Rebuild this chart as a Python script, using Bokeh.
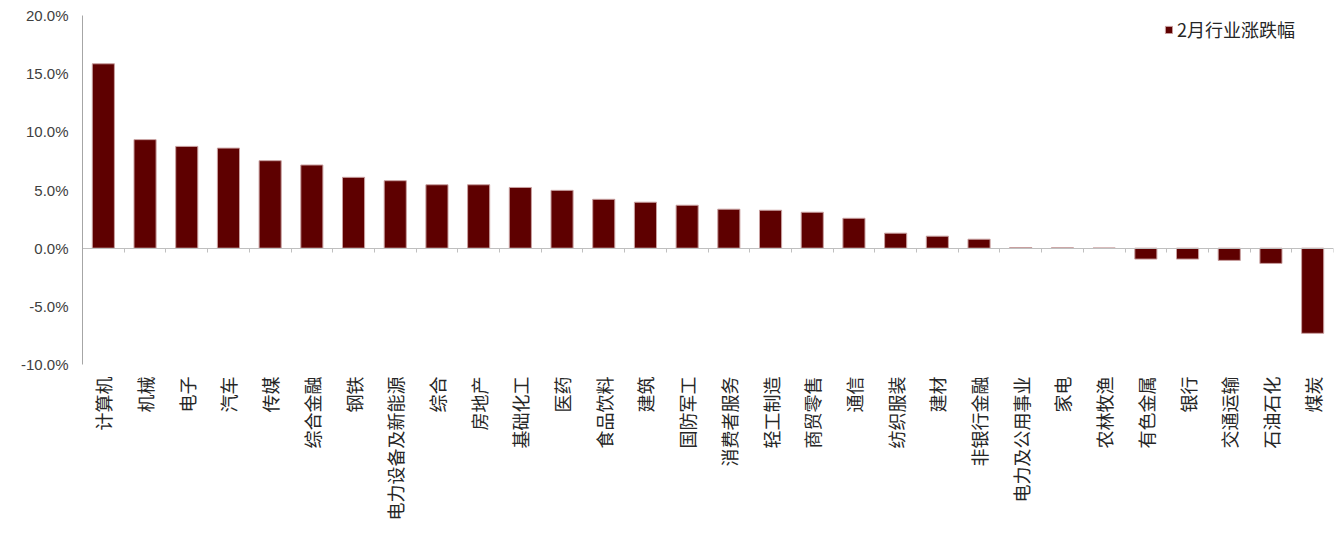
import math
from bokeh.plotting import figure
from bokeh.models import (Range1d, FixedTicker, NumeralTickFormatter, LinearAxis,
                          ColumnDataSource, Legend, LegendItem)
from bokeh.embed import file_html
from bokeh.resources import INLINE

industries = ["计算机", "机械", "电子", "汽车", "传媒", "综合金融", "钢铁", "电力设备及新能源",
              "综合", "房地产", "基础化工", "医药", "食品饮料", "建筑", "国防军工", "消费者服务",
              "轻工制造", "商贸零售", "通信", "纺织服装", "建材", "非银行金融", "电力及公用事业",
              "家电", "农林牧渔", "有色金属", "银行", "交通运输", "石油石化", "煤炭"]
change_pct = [15.85, 9.33, 8.75, 8.60, 7.52, 7.15, 6.09, 5.80, 5.45, 5.45, 5.22, 4.97, 4.20,
              3.95, 3.69, 3.35, 3.26, 3.09, 2.57, 1.29, 1.03, 0.77, 0.05, 0.03, 0.02,
              -0.94, -0.94, -1.05, -1.31, -7.32]
series_name = "2月行业涨跌幅"
y_ticks = [-0.10, -0.05, 0.0, 0.05, 0.10, 0.15, 0.20]

n = len(industries)
xs = [i + 0.5 for i in range(n)]
src = ColumnDataSource(dict(x=xs, top=[v / 100 for v in change_pct], name=industries))

p = figure(width=1336, height=535, output_backend="svg", toolbar_location=None,
           x_range=Range1d(0, n), y_range=Range1d(-0.10, 0.20),
           min_border_left=82, min_border_right=3, min_border_top=15, min_border_bottom=171,
           x_axis_location=None)
p.outline_line_color = None
p.xgrid.visible = False
p.ygrid.visible = False
p.background_fill_color = "white"

r = p.vbar(x="x", top="top", bottom=0, width=0.53, source=src,
           fill_color="#5E0000", line_color="#C9A0A0", line_width=1)

# y axis
ya = p.yaxis[0]
ya.ticker = FixedTicker(ticks=y_ticks)
ya.formatter = NumeralTickFormatter(format="0.0%")
ya.axis_line_color = "#A6A6A6"
ya.major_tick_out = 0
ya.major_tick_in = 0
ya.minor_tick_out = 0
ya.minor_tick_in = 0
ya.major_label_text_font = "Liberation Sans"
ya.major_label_text_font_size = "15px"
ya.major_label_text_color = "#404040"
ya.major_label_standoff = 14

# category labels at bottom
lab_axis = LinearAxis(ticker=FixedTicker(ticks=xs),
                      major_label_overrides={x: name for x, name in zip(xs, industries)},
                      major_label_orientation=math.pi / 2,
                      axis_line_color=None, major_tick_out=0, major_tick_in=0,
                      minor_tick_out=0, minor_tick_in=0,
                      major_label_text_font="Noto Sans CJK SC",
                      major_label_text_font_size="18px",
                      major_label_text_color="#262626",
                      major_label_standoff=12)
p.add_layout(lab_axis, "below")

# zero line with boundary ticks
bounds = list(range(n + 1))
zero_axis = LinearAxis(ticker=FixedTicker(ticks=bounds), fixed_location=0,
                       major_label_overrides={b: "" for b in bounds},
                       axis_line_color="#BFBFBF", major_tick_line_color="#BFBFBF",
                       major_tick_in=4, major_tick_out=0, minor_tick_in=0, minor_tick_out=0,
                       major_label_standoff=0)
p.add_layout(zero_axis, "above")

legend = Legend(items=[LegendItem(label=series_name, renderers=[r])],
                location=(1082, 322), glyph_width=9, glyph_height=9,
                label_text_font="Noto Sans CJK SC", label_text_font_size="18px",
                label_text_color="#262626", border_line_color=None,
                background_fill_alpha=0, padding=0, margin=0, label_standoff=4)
p.add_layout(legend, "center")

open("out.html", "w").write(file_html(p, INLINE))
